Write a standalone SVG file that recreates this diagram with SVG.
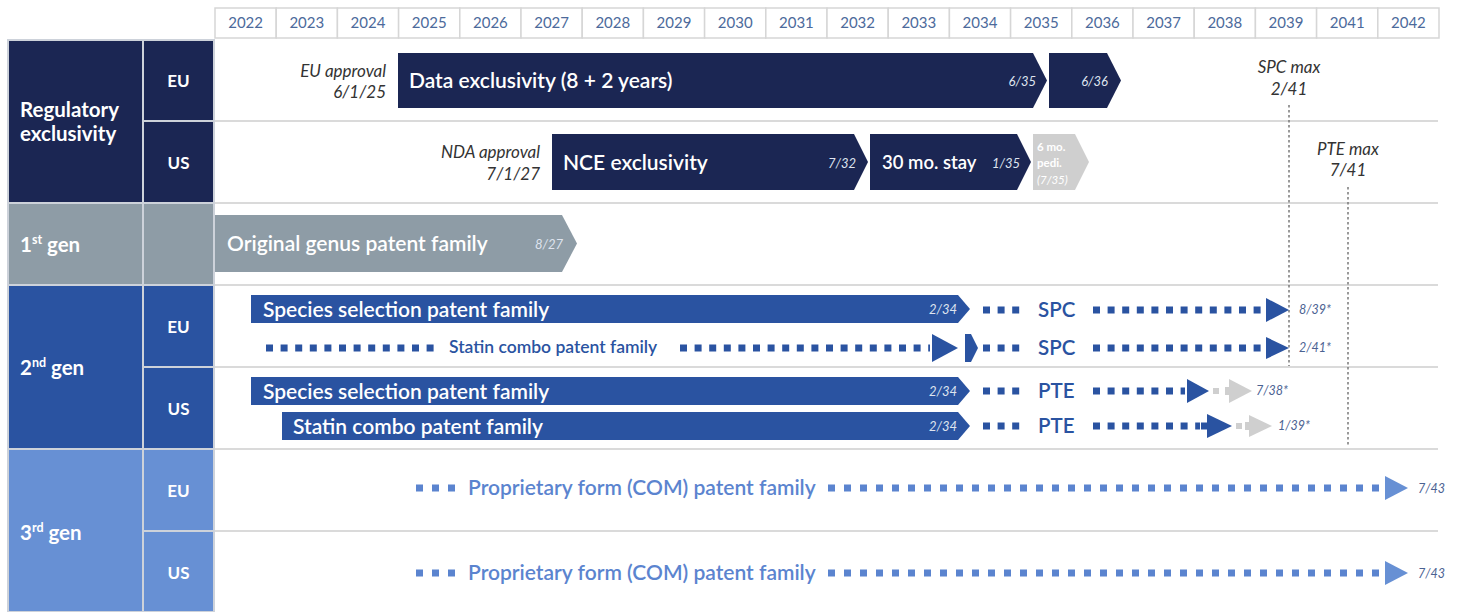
<svg xmlns="http://www.w3.org/2000/svg" width="1465" height="612" viewBox="0 0 1465 612">
<style>
text{font-family:Lato,"Open Sans","Liberation Sans",sans-serif}
.yr{font-size:15px;fill:#4c6a9b;text-anchor:middle}
.hc{fill:#fff;stroke:#d6d6d6;stroke-width:1.5}
.cell{stroke:#cdd2da;stroke-width:2}
.lab{font-size:20.5px;font-weight:700;fill:#fff}
.sub{font-size:17px;font-weight:700;fill:#fff;text-anchor:middle}
.bt{font-size:21px;font-weight:600;fill:#fff}
.bn{font-size:13px;font-style:italic;fill:#dfe4ef;text-anchor:end}
.note{font-size:17px;font-style:italic;fill:#333;text-anchor:end}
.max{font-size:17px;font-style:italic;fill:#333;text-anchor:middle}
.sep{stroke:#dadada;stroke-width:2}
.navy{fill:#1b2653}
.blue{fill:#2a53a1}
.lt{fill:#6790d4}
.gray{fill:#8e9ca6}
.pale{fill:#cfcfcf}
.d2{stroke:#2a53a1;stroke-width:7;stroke-dasharray:7 7.6}
.d3{stroke:#5b84cf;stroke-width:7;stroke-dasharray:7 9}
.kw{font-size:20.5px;font-weight:600;fill:#2a53a1}
.end{font-size:12.5px;font-style:italic;fill:#4b6292}
.vmax{stroke:#7a7a7a;stroke-width:1.5;stroke-dasharray:2.5 2.5}
</style>

<g id="years">
<rect class="hc" x="215" y="8" width="61.2" height="30"/><text class="yr" x="245.6" y="28">2022</text>
<rect class="hc" x="276.2" y="8" width="61.2" height="30"/><text class="yr" x="306.8" y="28">2023</text>
<rect class="hc" x="337.4" y="8" width="61.2" height="30"/><text class="yr" x="368" y="28">2024</text>
<rect class="hc" x="398.6" y="8" width="61.2" height="30"/><text class="yr" x="429.2" y="28">2025</text>
<rect class="hc" x="459.8" y="8" width="61.2" height="30"/><text class="yr" x="490.4" y="28">2026</text>
<rect class="hc" x="521" y="8" width="61.2" height="30"/><text class="yr" x="551.6" y="28">2027</text>
<rect class="hc" x="582.2" y="8" width="61.2" height="30"/><text class="yr" x="612.8" y="28">2028</text>
<rect class="hc" x="643.4" y="8" width="61.2" height="30"/><text class="yr" x="674" y="28">2029</text>
<rect class="hc" x="704.6" y="8" width="61.2" height="30"/><text class="yr" x="735.2" y="28">2030</text>
<rect class="hc" x="765.8" y="8" width="61.2" height="30"/><text class="yr" x="796.4" y="28">2031</text>
<rect class="hc" x="827" y="8" width="61.2" height="30"/><text class="yr" x="857.6" y="28">2032</text>
<rect class="hc" x="888.2" y="8" width="61.2" height="30"/><text class="yr" x="918.8" y="28">2033</text>
<rect class="hc" x="949.4" y="8" width="61.2" height="30"/><text class="yr" x="980" y="28">2034</text>
<rect class="hc" x="1010.6" y="8" width="61.2" height="30"/><text class="yr" x="1041.2" y="28">2035</text>
<rect class="hc" x="1071.8" y="8" width="61.2" height="30"/><text class="yr" x="1102.4" y="28">2036</text>
<rect class="hc" x="1133" y="8" width="61.2" height="30"/><text class="yr" x="1163.6" y="28">2037</text>
<rect class="hc" x="1194.2" y="8" width="61.2" height="30"/><text class="yr" x="1224.8" y="28">2038</text>
<rect class="hc" x="1255.4" y="8" width="61.2" height="30"/><text class="yr" x="1286" y="28">2039</text>
<rect class="hc" x="1316.6" y="8" width="61.2" height="30"/><text class="yr" x="1347.2" y="28">2041</text>
<rect class="hc" x="1377.8" y="8" width="61.2" height="30"/><text class="yr" x="1408.4" y="28">2042</text>
</g>

<g id="separators">
<line class="sep" x1="214" y1="121" x2="1438" y2="121"/>
<line class="sep" x1="214" y1="203" x2="1438" y2="203"/>
<line class="sep" x1="214" y1="285" x2="1438" y2="285"/>
<line class="sep" x1="214" y1="367" x2="1438" y2="367"/>
<line class="sep" x1="214" y1="449" x2="1438" y2="449"/>
<line class="sep" x1="214" y1="531" x2="1438" y2="531"/>
</g>

<g id="row-regulatory">
<rect class="cell navy" x="8" y="40" width="135" height="163"/>
<text class="lab" x="20" y="117">Regulatory</text>
<text class="lab" x="20" y="141">exclusivity</text>
</g>
<g id="row-reg-eu"><rect class="cell navy" x="143" y="40" width="71" height="81"/><text class="sub" x="178.5" y="87">EU</text></g>
<g id="row-reg-us"><rect class="cell navy" x="143" y="121" width="71" height="82"/><text class="sub" x="178.5" y="169">US</text></g>

<g id="row-1st">
<rect class="cell gray" x="8" y="203" width="135" height="82"/>
<rect class="cell gray" x="143" y="203" width="71" height="82"/>
<text class="lab" x="20" y="252">1<tspan font-size="12.5" dy="-8">st</tspan><tspan dy="8"> gen</tspan></text>
</g>

<g id="row-2nd">
<rect class="cell blue" x="8" y="285" width="135" height="164"/>
<text class="lab" x="20" y="375">2<tspan font-size="12.5" dy="-8">nd</tspan><tspan dy="8"> gen</tspan></text>
</g>
<g id="row-2nd-eu"><rect class="cell blue" x="143" y="285" width="71" height="82"/><text class="sub" x="178.5" y="333">EU</text></g>
<g id="row-2nd-us"><rect class="cell blue" x="143" y="367" width="71" height="82"/><text class="sub" x="178.5" y="415">US</text></g>

<g id="row-3rd">
<rect class="cell lt" x="8" y="449" width="135" height="163"/>
<text class="lab" x="20" y="540">3<tspan font-size="12.5" dy="-8">rd</tspan><tspan dy="8"> gen</tspan></text>
</g>
<g id="row-3rd-eu"><rect class="cell lt" x="143" y="449" width="71" height="82"/><text class="sub" x="178.5" y="497">EU</text></g>
<g id="row-3rd-us"><rect class="cell lt" x="143" y="531" width="71" height="81"/><text class="sub" x="178.5" y="579">US</text></g>

<g id="eu-approval">
<text class="note" x="386" y="77">EU approval</text>
<text class="note" x="386" y="98">6/1/25</text>
</g>
<g id="data-exclusivity">
<polygon class="navy" points="398,53 1033,53 1047,80.5 1033,108 398,108"/>
<text class="bt" x="409" y="88">Data exclusivity (8 + 2 years)</text>
<text class="bn" x="1036" y="86">6/35</text>
</g>
<g id="data-ext">
<polygon class="navy" points="1049,53 1107,53 1121,80.5 1107,108 1049,108"/>
<text class="bn" x="1108" y="86">6/36</text>
</g>

<g id="nda-approval">
<text class="note" x="540" y="158">NDA approval</text>
<text class="note" x="540" y="180">7/1/27</text>
</g>
<g id="nce">
<polygon class="navy" points="552,134 854,134 868,162 854,190 552,190"/>
<text class="bt" x="563" y="170">NCE exclusivity</text>
<text class="bn" x="856" y="168">7/32</text>
</g>
<g id="stay">
<polygon class="navy" points="870,134 1017,134 1031,162 1017,190 870,190"/>
<text class="bt" x="882" y="169" style="font-size:18.5px">30 mo. stay</text>
<text class="bn" x="1020" y="168">1/35</text>
</g>
<g id="pedi">
<polygon class="pale" points="1033,134 1075,134 1089,162 1075,190 1033,190"/>
<text x="1037" y="151" font-size="11.5" font-weight="700" fill="#fff">6 mo.</text>
<text x="1037" y="167" font-size="11.5" font-weight="700" fill="#fff">pedi.</text>
<text x="1037" y="184" font-size="11.5" font-style="italic" fill="#fff">(7/35)</text>
</g>

<g id="spc-max">
<text class="max" x="1289" y="73">SPC max</text>
<text class="max" x="1289" y="95">2/41</text>
</g>
<g id="pte-max">
<text class="max" x="1348" y="155">PTE max</text>
<text class="max" x="1348" y="176">7/41</text>
</g>

<g id="genus">
<polygon class="gray" points="215,215 562,215 577,243.5 562,272 215,272"/>
<text class="bt" x="227" y="251">Original genus patent family</text>
<text class="bn" x="563" y="249" fill="#eef0f3">8/27</text>
</g>

<g id="species-eu">
<polygon class="blue" points="251,295 958,295 970,309 958,323 251,323"/>
<text class="bt" x="263" y="317">Species selection patent family</text>
<text class="bn" x="957" y="314">2/34</text>
</g>
<g id="statin-eu">
<text x="449" y="353" font-size="17.5" font-weight="600" fill="#2a53a1">Statin combo patent family</text>
</g>
<g id="species-us">
<polygon class="blue" points="251,377 958,377 970,391 958,405 251,405"/>
<text class="bt" x="263" y="399">Species selection patent family</text>
<text class="bn" x="957" y="396">2/34</text>
</g>
<g id="statin-us">
<polygon class="blue" points="282,412 958,412 970,426 958,440 282,440"/>
<text class="bt" x="293" y="434">Statin combo patent family</text>
<text class="bn" x="957" y="431">2/34</text>
</g>

<g id="spc-labels">
<text class="kw" x="1038" y="317">SPC</text>
<text class="kw" x="1038" y="355">SPC</text>
<text class="end" x="1299" y="314">8/39*</text>
<text class="end" x="1299" y="352">2/41*</text>
</g>
<g id="pte-labels">
<text class="kw" x="1038" y="398">PTE</text>
<text class="kw" x="1038" y="433">PTE</text>
<text class="end" x="1256" y="395">7/38*</text>
<text class="end" x="1278" y="430">1/39*</text>
</g>

<g id="com-eu">
<text x="468" y="495" font-size="21" font-weight="600" fill="#5b84cf">Proprietary form (COM) patent family</text>
<text class="end" x="1418" y="493" fill="#5b84cf">7/43</text>
</g>
<g id="com-us">
<text x="468" y="580" font-size="21" font-weight="600" fill="#5b84cf">Proprietary form (COM) patent family</text>
<text class="end" x="1418" y="578" fill="#5b84cf">7/43</text>
</g>

<g id="connectors">
<line class="vmax" x1="1289" y1="105" x2="1289" y2="366"/>
<line class="vmax" x1="1348" y1="187" x2="1348" y2="445"/>

<line class="d2" x1="983" y1="310" x2="1022" y2="310"/>
<line class="d2" x1="1093" y1="310" x2="1263" y2="310"/>
<polygon class="blue" points="1266,298 1289,310 1266,322"/>

<line class="d2" x1="266" y1="348" x2="438" y2="348"/>
<line class="d2" x1="680" y1="348" x2="930" y2="348"/>
<polygon class="blue" points="932,334 958,348 932,362"/>
<polygon class="blue" points="965,334 971,334 978,348 971,362 965,362"/>
<line class="d2" x1="983" y1="348" x2="1022" y2="348"/>
<line class="d2" x1="1093" y1="348" x2="1263" y2="348"/>
<polygon class="blue" points="1266,337 1289,348 1266,359"/>

<line class="d2" x1="983" y1="391" x2="1022" y2="391"/>
<line class="d2" x1="1093" y1="391" x2="1185" y2="391"/>
<polygon class="blue" points="1187,379 1209,391 1187,403"/>
<rect class="pale" x="1213" y="388" width="6" height="6"/>
<rect class="pale" x="1225" y="387" width="6" height="8"/>
<polygon class="pale" points="1229,379 1252,391 1229,403"/>

<line class="d2" x1="983" y1="426" x2="1022" y2="426"/>
<line class="d2" x1="1093" y1="426" x2="1200" y2="426"/>
<rect class="blue" x="1201" y="422.5" width="8" height="7"/>
<polygon class="blue" points="1207,414 1232,426 1207,438"/>
<rect class="pale" x="1236" y="423" width="6" height="6"/>
<rect class="pale" x="1245" y="422" width="6" height="8"/>
<polygon class="pale" points="1249,415 1272,426 1249,437"/>

<line class="d3" x1="416" y1="488" x2="455" y2="488"/>
<line class="d3" x1="828" y1="488" x2="1383" y2="488"/>
<polygon class="lt" points="1385,476 1408,488 1385,500"/>

<line class="d3" x1="416" y1="573" x2="455" y2="573"/>
<line class="d3" x1="828" y1="573" x2="1383" y2="573"/>
<polygon class="lt" points="1385,561 1408,573 1385,585"/>
</g>
</svg>
